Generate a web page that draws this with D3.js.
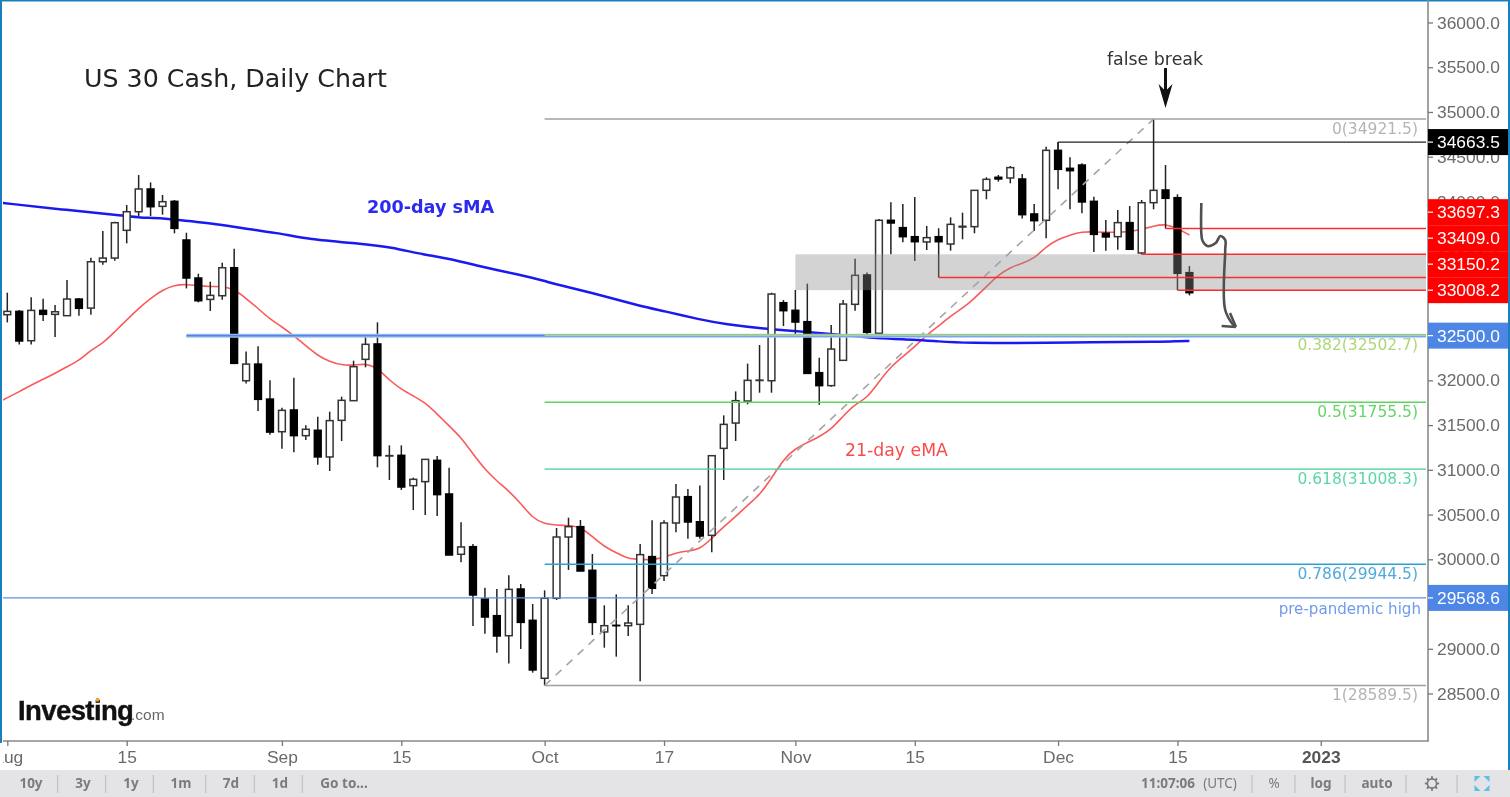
<!DOCTYPE html>
<html>
<head>
<meta charset="utf-8">
<script src="https://cdn.jsdelivr.net/npm/d3@7"></script>
<style>
html, body { margin: 0; padding: 0; background: #fff; overflow: hidden; }
svg { display: block; filter: blur(0.35px); }
text { font-family: "Liberation Sans", Arial, sans-serif; }
.note { font-family: "DejaVu Sans", sans-serif; }
.axis path { display: none; }
.axis line { stroke: #777; stroke-width: 1.3; }
.axis text { fill: #6a6a6a; font-size: 17.4px; font-family: "Liberation Sans", Arial, sans-serif; }
.bar-label { fill: #7b7b7b; font-size: 13.5px; font-weight: bold; font-family: "Noto Sans", sans-serif; }
</style>
</head>
<body>
<svg id="chart" width="1510" height="797"></svg>
<script>
// daily candles, Aug 1 to Dec 16 2022: open, high, low, close
const candles = [
    [32734,32980,32648,32771],[32771,32786,32402,32440],[32443,32928,32402,32782],[32782,32913,32663,32738],
    [32738,32842,32484,32767],[32723,33121,32723,32909],[32909,32920,32723,32805],[32808,33371,32734,33326],
    [33326,33669,33293,33367],[33367,33773,33338,33762],[33677,33960,33531,33885],[33885,34295,33837,34139],
    [34139,34213,33837,33941],[33945,34072,33852,33997],[34001,34016,33643,33699],[33569,33650,33028,33144],
    [33144,33192,32872,32890],[32905,33103,32775,32950],[32946,33315,32902,33259],[33259,33472,32190,32190],
    [31996,32324,31966,32182],[32182,32380,31657,31788],[31791,32000,31393,31422],[31426,31694,31236,31665],
    [31669,32030,31196,31382],[31382,31498,31334,31453],[31442,31594,31058,31144],[31144,31650,30987,31550],
    [31553,31818,31322,31777],[31773,32220,31773,32153],[32235,32500,32146,32403],[32407,32649,31028,31159],
    [31155,31274,30887,31159],[31162,31274,30775,30808],[30823,30913,30551,30894],[30868,31117,30495,31117],
    [31106,31155,30484,30723],[30730,31024,30048,30048],[30056,30413,29966,30138],[30141,30171,29255,29601],
    [29556,29683,29169,29355],[29370,29668,28956,29143],[29146,29821,28834,29664],[29668,29724,28997,29295],
    [29318,29500,28733,28763],[28670,29653,28589,29564],[29564,30350,29545,30249],[30249,30465,29881,30365],
    [30365,30439,29869,29869],[29877,30059,29154,29295],[29188,29486,29012,29258],[29262,29608,28912,29258],
    [29258,29486,29143,29288],[29273,30171,28636,30052],[30030,30436,29612,29676],[29817,30436,29758,30406],
    [30406,30842,30302,30696],[30700,30786,30230,30417],[30420,30826,30230,30260],[30268,31162,30078,31158],
    [31240,31609,30886,31508],[31523,31877,31322,31773],[31769,32187,31732,32000],[32000,32395,31862,32003],
    [31996,32980,31862,32965],[32868,32898,32608,32779],[32783,33010,32511,32652],[32656,33081,32078,32078],
    [32086,32254,31728,31941],[31941,32619,31929,32350],[32224,32898,32224,32853],[32850,33360,32779,33174],
    [33178,33207,32511,32537],[32526,33804,32526,33789],[33789,33990,33409,33759],[33707,33971,33543,33606],
    [33606,34050,33334,33550],[33547,33726,33457,33595],[33606,33700,33150,33550],[33524,33822,33450,33744],
    [33714,33875,33577,33722],[33718,34128,33644,34124],[34124,34270,34024,34247],[34270,34296,34221,34251],
    [34262,34396,34203,34378],[34251,34307,33808,33852],[33860,33971,33670,33785],[33789,34612,33588,34571],
    [34571,34663,34135,34359],[34370,34493,33912,34344],[34407,34426,33867,33994],[34001,34053,33435,33632],
    [33644,33793,33450,33603],[33606,33904,33461,33763],[33763,33949,33465,33465],[33424,34016,33409,33986],
    [33986,34921,33912,34124],[34128,34407,33697,34035],[34042,34080,33008,33197],[33204,33278,32950,32980]
];

// 21-day eMA, one reading per candle, plus where it comes in at the left edge
const emaEntry = [-0.4,31780];
const ema21 = [
    31806,31873,31948,32011,32078,32153,32220,32339,32413,32544,32674,32805,32916,33010,33066,33073,
    33058,33047,33054,33017,32917,32805,32682,32600,32499,32387,32276,32209,32171,32168,32190,32140,
    32000,31900,31825,31751,31624,31490,31363,31177,31006,30875,30764,30626,30458,30395,30383,30376,
    30365,30253,30141,30074,30003,30000,29992,30022,30074,30093,30111,30234,30365,30476,30607,30718,
    30905,31117,31240,31304,31371,31452,31602,31736,31799,31985,32153,32265,32377,32507,32608,32720,
    32805,32917,33047,33178,33264,33308,33360,33495,33577,33625,33662,33659,33655,33655,33662,33688,
    33726,33748,33700,33625
];

// 200-day sMA, read at the places where the line bends
const smaIndex  = [-0.4,-0.4,5,10,11,13,15,18,20,23,25,30,32,35,37,39,43,45,46,50,53,55,58,60,64,66,69,73,76,78,80,88,90,97,98,99,99];
const smaValues = [33983,33983,33904,33837,33819,33815,33781,33742,33692,33642,33580,33524,33491,33401,33362,33290,33178,33111,33072,32943,32831,32775,32680,32630,32569,32552,32518,32468,32457,32435,32418,32418,32429,32429,32440,32440,32440];

const yTicks = [36000,35500,35000,34500,34000,33500,33000,32500,32000,31500,31000,30500,30000,29500,29000,28500];
const xTickIndex  = [0,10,23,33,45,55,66,76,88,98,110];
const xTickLabels = ["Aug","15","Sep","15","Oct","17","Nov","15","Dec","15","2023"];

// fibonacci retracement from the Sep 30 low to the Dec 13 high
const fibRatios = ["0","0.382","0.5","0.618","0.786","1"];
const fibPrices = [34921.5,32502.7,31755.5,31008.3,29944.5,28589.5];
const fibColors = ["#a0a0a0","#a8d86e","#5fd35f","#3fcf94","#2f9fd8","#a0a0a0"];
const fibLabelColors = ["#b4b4b4","#acd878","#64d564","#5cd6a4","#4fa9dc","#b4b4b4"];
const fibStart = 45;
const trendFrom = [45,28589.5];
const trendTo   = [96,34921.5];

// red levels and the candle each ray starts from
const redLevels = [33697.3,33409.0,33150.2,33008.2];
const redStart  = [97,95,78,98];
const blackLevel = 34663.5;
const blackStart = 88;
const supportLevel = 32500.0;
const supportStart = 15;
const preLevel = 29568.6;
const zoneFrom = 66;
const zoneTop = 33409.0;
const zoneBottom = 33008.2;

// hand drawn arrows, [candle index, price]
const swingArrow = [[100,33983],[100,33640],[100.1,33560],[100.5,33501],[101.2,33535],[101.6,33614],[102,33569],[102,33457],[102,32787],[102.8,32597]];
const swingHeadA = [[101.7,32608],[102.9,32597]];
const swingHeadB = [[102.4,32753],[102.9,32597]];
const breakArrow = [[97,35491],[97,35200]];

const leftButtons  = ["10y","3y","1y","1m","7d","1d","Go to..."];

var width = 1510, height = 797;
var plot = {left: 3, right: 1428, top: 1, bottom: 741};

var x = d3.scaleLinear().domain([0, 99]).range([7.3, 1189.4]);
var y = d3.scaleLinear().domain([28500, 36000]).range([693.5, 22.5]);

var svg = d3.select("#chart");
svg.append("defs").append("clipPath").attr("id", "plot-clip")
    .append("rect")
    .attr("x", plot.left).attr("y", plot.top)
    .attr("width", plot.right - plot.left - 2).attr("height", plot.bottom - plot.top);

var g = {};
g.plot = svg.append("g").attr("clip-path", "url(#plot-clip)");
g.axes = svg.append("g");
g.tags = svg.append("g");
g.bar  = svg.append("g");

drawAverages();
drawCandles();
drawLevels();
drawNotes();
drawAxes();
drawTags();
drawBottomBar();
drawLogo();

function hline(price, from, color, w) {
    g.plot.append("line")
	.attr("x1", from).attr("x2", plot.right)
	.attr("y1", y(price)).attr("y2", y(price))
	.attr("stroke", color)
	.attr("stroke-width", w);
}

function drawAverages() {
    let emaPoints = [emaEntry].concat(ema21.map((v, i) => [i, v]));
    let emaLine = d3.line().x(d => x(d[0])).y(d => y(d[1])).curve(d3.curveBasis);
    g.plot.append("path")
	.attr("d", emaLine(emaPoints))
	.attr("fill", "none")
	.attr("stroke", "#fb5a5a")
	.attr("stroke-width", 1.6);

    let smaLine = d3.line().x((d, i) => x(smaIndex[i])).y(d => y(d)).curve(d3.curveBasis);
    g.plot.append("path")
	.attr("d", smaLine(smaValues))
	.attr("fill", "none")
	.attr("stroke", "#1a1af0")
	.attr("stroke-width", 2.5);
}

function drawCandles() {
    let candle = g.plot.selectAll("g.candle")
	.data(candles)
	.enter()
	.append("g")
	.attr("class", "candle");
    candle.append("line")
	.attr("x1", (d, i) => x(i)).attr("x2", (d, i) => x(i))
	.attr("y1", d => y(d[1])).attr("y2", d => y(d[2]))
	.attr("stroke", "#222")
	.attr("stroke-width", 1.5);
    candle.append("rect")
	.attr("x", (d, i) => x(i) - 3.4)
	.attr("width", 6.8)
	.attr("y", d => y(Math.max(d[0], d[3])))
	.attr("height", d => Math.max(0.4, Math.abs(y(d[0]) - y(d[3]))))
	.attr("fill", d => d[3] >= d[0] ? "#fff" : "#000")
	.attr("stroke", d => d[3] >= d[0] ? "#333" : "#000")
	.attr("stroke-width", 1.5);
}

function drawLevels() {
    // grey zone sits over the candles
    g.plot.append("rect")
	.attr("x", x(zoneFrom))
	.attr("y", y(zoneTop))
	.attr("width", plot.right - x(zoneFrom))
	.attr("height", y(zoneBottom) - y(zoneTop))
	.attr("fill", "#8c8c8c")
	.attr("fill-opacity", 0.38);

    fibPrices.forEach(function(p, i) {
	hline(p, x(fibStart), fibColors[i], 1.4);
    });

    g.plot.append("line")
	.attr("x1", x(trendFrom[0])).attr("y1", y(trendFrom[1]))
	.attr("x2", x(trendTo[0])).attr("y2", y(trendTo[1]))
	.attr("stroke", "#a4a4a4")
	.attr("stroke-width", 1.6)
	.attr("stroke-dasharray", "8 7");

    // support line has a pale halo
    hline(supportLevel, x(supportStart), "#a9c6ee", 4);
    hline(supportLevel, x(supportStart), "#4d86e5", 1.6);
    hline(fibPrices[1], x(fibStart), fibColors[1], 1.4);
    hline(preLevel, plot.left, "#5a90e8", 1.3);
    hline(blackLevel, x(blackStart), "#222", 1.3);
    g.plot.append("line")
	.attr("x1", x(blackStart)).attr("x2", x(blackStart))
	.attr("y1", y(blackLevel)).attr("y2", y(candles[blackStart][0]))
	.attr("stroke", "#222").attr("stroke-width", 1.3);

    redLevels.forEach(function(p, i) {
	hline(p, x(redStart[i]), "#fa2e2e", 1.5);
    });
}

function drawNotes() {
    let line = d3.line().x(d => x(d[0])).y(d => y(d[1]));
    g.plot.append("path")
	.attr("d", d3.line().x(d => x(d[0])).y(d => y(d[1])).curve(d3.curveCatmullRom)(swingArrow))
	.attr("fill", "none").attr("stroke", "#505050").attr("stroke-width", 2.6);
    [swingHeadA, swingHeadB].forEach(function(h) {
	g.plot.append("path").attr("d", line(h))
	    .attr("fill", "none").attr("stroke", "#505050").attr("stroke-width", 2.6);
    });

    // false break arrow
    let bx = x(breakArrow[0][0]);
    let by = y(breakArrow[1][1]);
    g.plot.append("path").attr("d", line(breakArrow))
	.attr("fill", "none").attr("stroke", "#111").attr("stroke-width", 3);
    g.plot.append("path")
	.attr("d", d3.line()([[bx - 7, by - 10], [bx, by - 3], [bx + 7, by - 10], [bx, by + 14]]) + "Z")
	.attr("fill", "#111");

    let note = function(text, px, py, size, color, anchor, weight) {
	return g.plot.append("text")
	    .attr("class", "note")
	    .attr("x", px).attr("y", py)
	    .attr("font-size", size)
	    .attr("fill", color)
	    .attr("text-anchor", anchor || "start")
	    .attr("font-weight", weight || "normal")
	    .text(text);
    };
    note("US 30 Cash, Daily Chart", 84, 87, 25.3, "#222");
    note("false break", 1155, 65, 17.4, "#333", "middle");
    note("200-day sMA", 367, 213, 17.6, "#2a2af0", "start", "bold");
    note("21-day eMA", 845, 456, 17.3, "#fb4a4a");
    note("pre-pandemic high", 1421, 614, 15.1, "#6f9bea", "end");

    fibPrices.forEach(function(p, i) {
	note(fibRatios[i] + "(" + d3.format(".1f")(p) + ")", 1418, y(p) + 15, 15.5, fibLabelColors[i], "end");
    });
}

function drawAxes() {
    // frame
    g.axes.append("rect").attr("x", 0).attr("y", 0).attr("width", 1510).attr("height", 1.5).attr("fill", "#1a80bd");
    g.axes.append("rect").attr("x", 0).attr("y", 0).attr("width", 2).attr("height", 770).attr("fill", "#1a80bd");
    g.axes.append("rect").attr("x", 1508).attr("y", 0).attr("width", 2).attr("height", 770).attr("fill", "#1a80bd");
    g.axes.append("line").attr("x1", plot.right).attr("x2", plot.right).attr("y1", 0).attr("y2", plot.bottom)
	.attr("stroke", "#8a8a8a").attr("stroke-width", 1.6);
    g.axes.append("line").attr("x1", plot.left).attr("x2", plot.right + 1).attr("y1", plot.bottom).attr("y2", plot.bottom)
	.attr("stroke", "#8a8a8a").attr("stroke-width", 1.6);

    let yAxis = d3.axisRight(y)
	.tickValues(yTicks)
	.tickSize(5)
	.tickPadding(4)
	.tickFormat(d3.format(".1f"));
    g.axes.append("g")
	.attr("class", "axis")
	.attr("transform", "translate(" + plot.right + ",0)")
	.call(yAxis);

    let xAxis = d3.axisBottom(x)
	.tickValues(xTickIndex)
	.tickSize(5)
	.tickPadding(5)
	.tickFormat((d, i) => xTickLabels[i]);
    let xg = g.axes.append("g")
	.attr("class", "axis")
	.attr("transform", "translate(0," + plot.bottom + ")")
	.call(xAxis);
    xg.selectAll("text").filter(d => d === 110)
	.attr("font-weight", "bold")
	.style("fill", "#555");
    // Aug is cut by the left edge of the chart
    g.axes.append("rect").attr("x", 0).attr("y", plot.bottom + 2).attr("width", 3).attr("height", 27).attr("fill", "#fff");
}

function tag(price, cy, color) {
    let h = 26;
    g.tags.append("rect")
	.attr("x", plot.right).attr("y", cy - h / 2)
	.attr("width", 80).attr("height", h)
	.attr("fill", color);
    g.tags.append("line")
	.attr("x1", plot.right).attr("x2", plot.right + 5)
	.attr("y1", cy).attr("y2", cy)
	.attr("stroke", "#fff").attr("stroke-width", 1.2);
    g.tags.append("text")
	.attr("x", plot.right + 9).attr("y", cy + 6.2)
	.attr("font-size", 17.4)
	.attr("fill", "#fff")
	.text(d3.format(".1f")(price));
}

function drawTags() {
    tag(blackLevel, y(blackLevel), "#000");
    // the four red tags are stacked upward from the lowest one
    let n = redLevels.length;
    redLevels.forEach(function(p, i) {
	tag(p, y(redLevels[n - 1]) - 26 * (n - 1 - i), "#ff0000");
    });
    tag(supportLevel, y(supportLevel), "#4d86e5");
    tag(preLevel, y(preLevel), "#4d86e5");
}

function drawBottomBar() {
    g.bar.append("rect")
	.attr("x", 0).attr("y", 770)
	.attr("width", width).attr("height", 27)
	.attr("fill", "#e4e4e6");

    let label = function(text, cx, weight, color) {
	g.bar.append("text")
	    .attr("class", "bar-label")
	    .attr("x", cx).attr("y", 788)
	    .attr("text-anchor", "middle")
	    .style("font-weight", weight || "bold")
	    .style("fill", color || "#7b7b7b")
	    .text(text);
    };
    let sep = function(px) {
	g.bar.append("line")
	    .attr("x1", px).attr("x2", px).attr("y1", 775).attr("y2", 793)
	    .attr("stroke", "#bbb").attr("stroke-width", 1);
    };

    let centers = [31, 83, 131, 181, 231, 280, 344];
    leftButtons.forEach((b, i) => label(b, centers[i]));
    [57.7, 105.7, 153.3, 205.7, 254.3, 302.3].forEach(sep);

    label("11:07:06", 1168);
    label("(UTC)", 1220, "normal");
    label("%", 1274, "normal");
    label("log", 1321);
    label("auto", 1377);
    [1252, 1295, 1345, 1406, 1457].forEach(sep);

    // gear
    let gear = g.bar.append("g").attr("transform", "translate(1432,783.5)");
    gear.append("circle").attr("r", 4.6).attr("fill", "none").attr("stroke", "#777").attr("stroke-width", 1.6);
    d3.range(8).forEach(function(k) {
	gear.append("line")
	    .attr("x1", 0).attr("x2", 0).attr("y1", -4.6).attr("y2", -7.2)
	    .attr("stroke", "#777").attr("stroke-width", 1.8)
	    .attr("transform", "rotate(" + (k * 45) + ")");
    });

    // fullscreen
    let icon = g.bar.append("g").attr("transform", "translate(1482,783.5)");
    [[-1, -1], [1, -1], [-1, 1], [1, 1]].forEach(function(s) {
	icon.append("path")
	    .attr("d", "M" + (s[0] * 7.5) + "," + (s[1] * 7.5) +
		  "L" + (s[0] * 1.5) + "," + (s[1] * 7.5) +
		  "L" + (s[0] * 7.5) + "," + (s[1] * 1.5) + "Z")
	    .attr("fill", "#5bbfe8");
    });
}

function drawLogo() {
    let logo = g.plot.append("g");
    logo.append("text")
	.attr("x", 18).attr("y", 720)
	.attr("font-size", 27.5)
	.attr("font-weight", "bold")
	.attr("letter-spacing", -0.6)
	.attr("fill", "#111")
	.attr("stroke", "#111")
	.attr("stroke-width", 0.4)
	.text("Investing");
    logo.append("text")
	.attr("x", 131).attr("y", 720)
	.attr("font-size", 15.5)
	.attr("fill", "#666")
	.text(".com");
    logo.append("rect")
	.attr("x", 96).attr("y", 698)
	.attr("width", 3).attr("height", 3.5)
	.attr("fill", "#f5a623");
}
</script>
</body>
</html>
